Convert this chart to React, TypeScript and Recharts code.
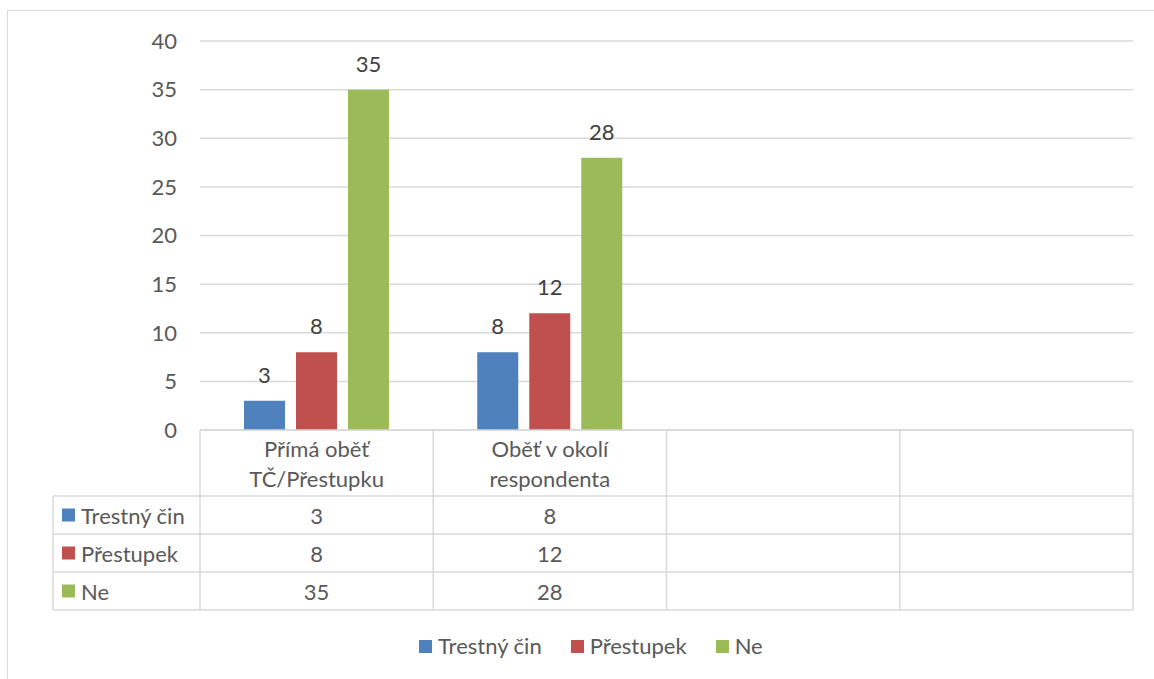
import { BarChart, Bar, XAxis, YAxis, CartesianGrid, LabelList } from "recharts";

// categories (line break = wrapped label), empty ones are Excel's blank columns
const categories = ["Přímá oběť\nTČ/Přestupku", "Oběť v okolí\nrespondenta", "", " "];
const trestnyCin = [3, 8, null, null];
const prestupek = [8, 12, null, null];
const ne = [35, 28, null, null];
const yTicks = [0, 5, 10, 15, 20, 25, 30, 35, 40];

const series = [
  { key: "trestnyCin", name: "Trestný čin", color: "#4F81BD", values: trestnyCin },
  { key: "prestupek", name: "Přestupek", color: "#C0504D", values: prestupek },
  { key: "ne", name: "Ne", color: "#9BBB59", values: ne },
];

const data = categories.map((category, i) => ({
  category,
  trestnyCin: trestnyCin[i],
  prestupek: prestupek[i],
  ne: ne[i],
}));

const W = 1154;
const H = 679;
const PLOT_LEFT = 200;
const PLOT_RIGHT = 1133;
const PLOT_TOP = 41;
const PLOT_BOTTOM = 430;
const BAND = (PLOT_RIGHT - PLOT_LEFT) / categories.length;
const HEADER_LEFT = 53;
const ROW_LINES = [496, 534, 572, 610];
const GRID = "#D9D9D9";
const TEXT = "#595959";
const FONT = "Lato, 'Open Sans', sans-serif";
const FS = 22;

function TableTick(props: any) {
  const { x, y, payload } = props;
  const i: number = payload.index ?? props.index;
  const left = x - BAND / 2;
  const right = x + BAND / 2;
  const lines = String(payload.value).split("\n").filter((t) => t.trim() !== "");
  const rowCenter = (r: number) => (ROW_LINES[r] + ROW_LINES[r + 1]) / 2;
  return (
    <g fontFamily={FONT} fontSize={FS} fill={TEXT}>
      <line x1={right} y1={y} x2={right} y2={ROW_LINES[3]} stroke={GRID} strokeWidth={1.5} />
      {i === 0 && (
        <g>
          <line x1={left} y1={y} x2={left} y2={ROW_LINES[3]} stroke={GRID} strokeWidth={1.5} />
          <line x1={HEADER_LEFT} y1={ROW_LINES[0]} x2={HEADER_LEFT} y2={ROW_LINES[3]} stroke={GRID} strokeWidth={1.5} />
          {ROW_LINES.map((ry) => (
            <line key={ry} x1={HEADER_LEFT} y1={ry} x2={left} y2={ry} stroke={GRID} strokeWidth={1.5} />
          ))}
          {series.map((s, r) => (
            <g key={s.key}>
              <rect x={HEADER_LEFT + 9} y={rowCenter(r) - 6.5} width={13} height={13} fill={s.color} />
              <text x={HEADER_LEFT + 28} y={rowCenter(r)} dominantBaseline="central" fill={TEXT}>
                {s.name}
              </text>
            </g>
          ))}
        </g>
      )}
      {ROW_LINES.map((ry) => (
        <line key={ry} x1={left} y1={ry} x2={right} y2={ry} stroke={GRID} strokeWidth={1.5} />
      ))}
      {lines.map((t, k) => (
        <text key={k} x={x} y={y + 18 + k * 30} textAnchor="middle" dominantBaseline="central" fill={TEXT}>
          {t}
        </text>
      ))}
      {series.map((s, r) => (
        <text key={s.key} x={x} y={rowCenter(r)} textAnchor="middle" dominantBaseline="central" fill={TEXT}>
          {s.values[i] ?? ""}
        </text>
      ))}
    </g>
  );
}

function Legend() {
  return (
    <div
      style={{
        position: "absolute",
        left: 419,
        top: 633,
        display: "flex",
        gap: 29,
        fontFamily: FONT,
        fontSize: FS,
        color: TEXT,
        lineHeight: "26px",
      }}
    >
      {series.map((s) => (
        <div key={s.key} style={{ display: "flex", alignItems: "center" }}>
          <span style={{ width: 13, height: 13, background: s.color, marginRight: 6 }} />
          <span>{s.name}</span>
        </div>
      ))}
    </div>
  );
}

export default function App() {
  return (
    <div style={{ position: "absolute", left: 0, top: 0, width: W, height: H, overflow: "hidden", background: "#fff" }}>
      <div
        style={{
          position: "absolute",
          left: 7,
          top: 10,
          width: W + 20,
          height: H + 20,
          border: `1.5px solid ${GRID}`,
        }}
      />
      <div style={{ position: "absolute", left: 0, top: 0 }}>
        <BarChart
          width={W}
          height={H}
          data={data}
          margin={{ top: PLOT_TOP, right: W - PLOT_RIGHT, left: 0, bottom: 0 }}
          barSize={41}
          barGap={11}
        >
          <CartesianGrid horizontal vertical={false} stroke={GRID} strokeWidth={1.5} />
          <XAxis
            dataKey="category"
            height={H - PLOT_BOTTOM}
            axisLine={{ stroke: GRID, strokeWidth: 1.5 }}
            tickLine={false}
            tickSize={0}
            tickMargin={0}
            interval={0}
            tick={(p: any) => <TableTick {...p} />}
          />
          <YAxis
            width={PLOT_LEFT}
            domain={[0, 40]}
            ticks={yTicks}
            axisLine={false}
            tickLine={false}
            tickSize={0}
            tickMargin={23}
            tick={{ fill: TEXT, fontSize: FS, fontFamily: FONT }}
          />
          {series.map((s) => (
            <Bar key={s.key} dataKey={s.key} name={s.name} fill={s.color} isAnimationActive={false}>
              <LabelList
                dataKey={s.key}
                position="top"
                offset={18}
                fill="#404040"
                fontSize={FS}
                fontFamily={FONT}
              />
            </Bar>
          ))}
        </BarChart>
      </div>
      <Legend />
    </div>
  );
}
